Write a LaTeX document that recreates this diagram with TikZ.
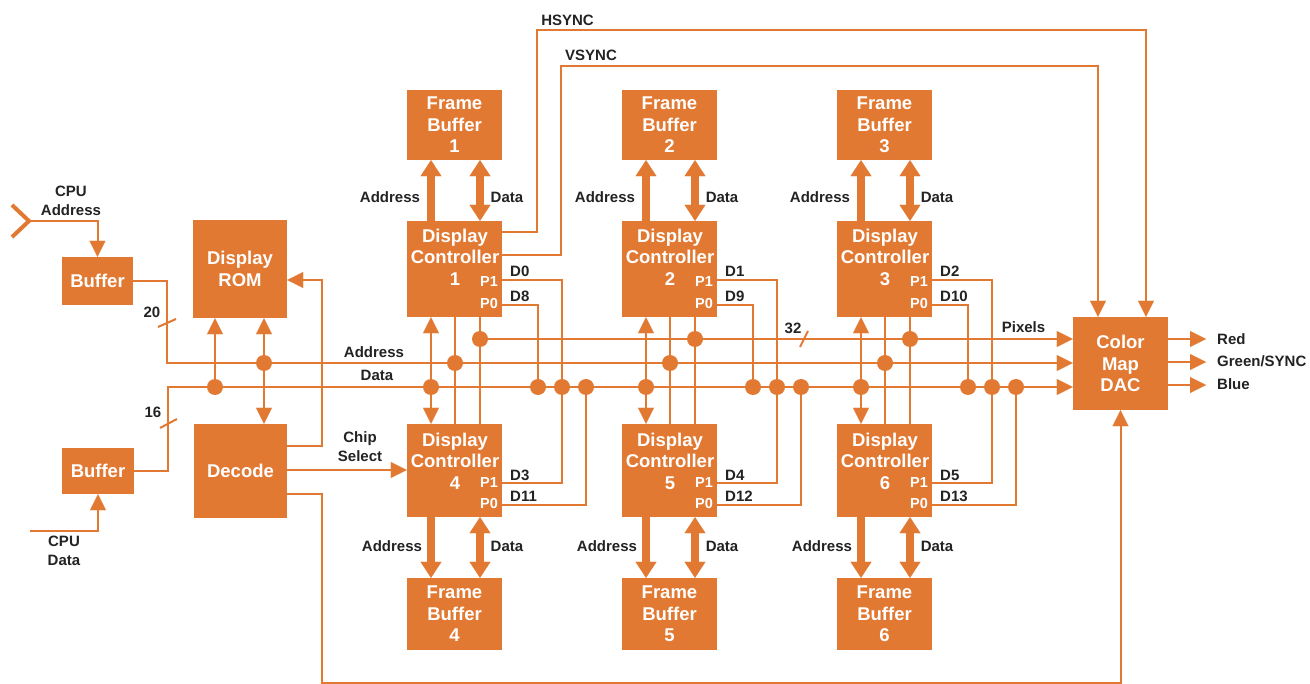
\documentclass[tikz,border=0pt]{standalone}
\usepackage{fontspec}
\setmainfont{Liberation Sans}
\usetikzlibrary{arrows.meta,calc}
\definecolor{hpor}{RGB}{226,121,50}
\definecolor{ink}{RGB}{35,35,35}
\tikzset{
  obox/.style={fill=hpor, draw=none, inner sep=0pt, minimum width=95pt, text=white,
     font=\fontsize{18.5}{21.5}\selectfont\bfseries, align=center},
  btxt/.style={text=white, font=\fontsize{18.5}{21.5}\selectfont\bfseries, align=center, inner sep=0pt},
  ptxt/.style={text=white, font=\fontsize{14.5}{17}\selectfont\bfseries, inner sep=0pt},
  lbl/.style={text=ink, font=\fontsize{15}{19.5}\selectfont\bfseries, inner sep=0pt, align=center},
  wire/.style={draw=hpor, line width=2pt},
  arr/.style={wire, -{Triangle[length=16pt,width=16pt,line width=0.1pt]}},
  darr/.style={wire, {Triangle[length=16pt,width=16pt,line width=0.1pt]}-{Triangle[length=16pt,width=16pt,line width=0.1pt]}},
  fat/.style={draw=hpor, line width=8pt, -{Triangle[length=16pt,width=21pt,line width=0.1pt]}},
  fatd/.style={draw=hpor, line width=8pt, {Triangle[length=16pt,width=21pt,line width=0.1pt]}-{Triangle[length=16pt,width=21pt,line width=0.1pt]}},
}
\begin{document}
\begin{tikzpicture}[x=1pt,y=-1pt]
\useasboundingbox (0,0) rectangle (1310,684);
\fill[white] (0,0) rectangle (1310,684);

% ---------- left side boxes
\node[obox, minimum width=71pt, minimum height=48pt] (buf1) at (97.5,281) {Buffer};
\node[obox, minimum width=72pt, minimum height=46pt] (buf2) at (98,471) {Buffer};
\node[obox, minimum width=94pt, minimum height=98pt] (rom) at (240,269) {Display\\ROM};
\node[obox, minimum width=93pt, minimum height=94pt] (dec) at (240.5,471) {Decode};
\node[obox, minimum width=95pt, minimum height=93pt] (dac) at (1120.5,363.5) {Color\\Map\\DAC};

% bus reference coordinates
\coordinate (pY) at (0,339);
\coordinate (aY) at (0,363);
\coordinate (dY) at (0,387);

% ---------- CPU inputs
\coordinate (cin) at (29,221);
\draw[hpor, line width=4pt, line join=miter] (12,205) -- (cin) -- (12,237);
\draw[arr] (cin) -| (buf1.north);
\node[lbl] (cpua) at (71,201) {CPU\\Address};
\coordinate (din) at (30,531);
\draw[arr] (din) -| (buf2.south);
\node[lbl] (cpud) at (64,551) {CPU\\Data};

% ---------- buses
\coordinate (aX) at (167,363);
\draw[arr] (buf1.east) -| (aX) -- (dac.west |- aX);
\coordinate (dX) at (168,387);
\draw[arr] (buf2.east) -| (dX) -- (dac.west |- dX);
\coordinate (pX) at (480,339);
\draw[arr] (pX) -- (dac.west |- pX);

\node[lbl] (n20) at (152,312) {20};
\draw[wire] (158,327) -- (176,319);
\node[lbl] (n16) at (153,412) {16};
\draw[wire] (160,428) -- (177,419);
\node[lbl] (n32) at (793,328) {32};
\draw[wire] (800,347) -- (808,331);
\node[lbl] (busa) at (374,352) {Address};
\node[lbl] (busd) at (377,375) {Data};
\node[lbl] (pix) at (1023.5,327) {Pixels};

% ---------- ROM / Decode links
\coordinate (j1) at (215,387);
\draw[arr] (j1) -- (rom.south -| j1);
\coordinate (j2) at (264,363);
\draw[darr] (rom.south -| j2) -- (dec.north -| j2);
\fill[hpor] (j1) circle (8pt) (j2) circle (8pt);

\coordinate (k1) at (322,446);
\coordinate (k2) at (322,280);
\draw[arr] (dec.east |- k1) -- (k1) -- (k2) -- (rom.east |- k2);
\coordinate (k3) at (322,494);
\coordinate (k4) at (322,683);
\draw[arr] (dec.east |- k3) -- (k3) -- (k4) -| (dac.south);

% ---------- display controller columns
\foreach \i/\xx in {1/407,2/622,3/837}{
  \pgfmathtruncatemacro{\j}{\i+3}
  \pgfmathtruncatemacro{\da}{\i-1}
  \pgfmathtruncatemacro{\db}{\i+7}
  \pgfmathtruncatemacro{\dc}{\i+2}
  \pgfmathtruncatemacro{\dd}{\i+10}
  \node[obox, minimum height=70pt] (fb\i) at (\xx+47.5,125) {Frame\\Buffer\\\i};
  \node[obox, minimum height=96pt] (dc\i) at (\xx+47.5,269) {};
  \node[btxt] (dc\i-t) at (\xx+48,246.5) {Display\\Controller};
  \node[btxt] (dc\i-n) at (\xx+48,279) {\i};
  \node[ptxt] (dc\i-p1) at (\xx+82,282) {P1};
  \node[ptxt] (dc\i-p0) at (\xx+82,304) {P0};
  \node[obox, minimum height=93pt] (dc\j) at (\xx+47.5,470.5) {};
  \node[btxt] (dc\j-t) at (\xx+48,450.5) {Display\\Controller};
  \node[btxt] (dc\j-n) at (\xx+48,483) {\j};
  \node[ptxt] (dc\j-p1) at (\xx+82,483) {P1};
  \node[ptxt] (dc\j-p0) at (\xx+82,504) {P0};
  \node[obox, minimum height=72pt] (fb\j) at (\xx+47.5,614) {Frame\\Buffer\\\j};
  % frame buffer links
  \coordinate (ca\i) at (\xx+24,0);
  \coordinate (cb\i) at (\xx+48,0);
  \coordinate (cd\i) at (\xx+73,0);
  \draw[fat] (dc\i.north -| ca\i) -- (fb\i.south -| ca\i);
  \draw[fatd] (dc\i.north -| cd\i) -- (fb\i.south -| cd\i);
  \draw[fat] (dc\j.south -| ca\i) -- (fb\j.north -| ca\i);
  \draw[fatd] (dc\j.south -| cd\i) -- (fb\j.north -| cd\i);
  \node[lbl] (la\i) at (\xx-17,197) {Address};
  \node[lbl] (ld\i) at (\xx+100,197) {Data};
  \node[lbl] (la\j) at (\xx-15,546) {Address};
  \node[lbl] (ld\j) at (\xx+100,546) {Data};
  % bus links
  \draw[darr] (dc\i.south -| ca\i) -- (dc\j.north -| ca\i);
  \draw[wire] (dc\i.south -| cb\i) -- (dc\j.north -| cb\i);
  \draw[wire] (dc\i.south -| cd\i) -- (dc\j.north -| cd\i);
  % pixel outputs
  \coordinate (pa\i) at (\xx+131,305);
  \coordinate (pb\i) at (\xx+155,280);
  \coordinate (pbb\i) at (\xx+155,483);
  \coordinate (pc\i) at (\xx+179,505);
  \draw[wire] (dc\i.east |- pa\i) -- (pa\i) -- (pa\i |- dY);
  \draw[wire] (dc\i.east |- pb\i) -- (pb\i) -- (pbb\i) -- (dc\j.east |- pbb\i);
  \draw[wire] (dc\j.east |- pc\i) -- (pc\i) -- (pc\i |- dY);
  \node[lbl, anchor=west] (dl\i a) at (\xx+103,271) {D\da};
  \node[lbl, anchor=west] (dl\i b) at (\xx+103,296) {D\db};
  \node[lbl, anchor=west] (dl\j a) at (\xx+103,475) {D\dc};
  \node[lbl, anchor=west] (dl\j b) at (\xx+103,496) {D\dd};
  % junction dots
  \fill[hpor] (ca\i |- dY) circle (8pt) (cb\i |- aY) circle (8pt) (cd\i |- pY) circle (8pt)
              (pa\i |- dY) circle (8pt) (pb\i |- dY) circle (8pt) (pc\i |- dY) circle (8pt);
}

% ---------- chip select
\coordinate (cs) at (300,470);
\draw[arr] (dec.east |- cs) -- (dc4.west |- cs);
\node[lbl] (chip) at (360,446.5) {Chip\\Select};

% ---------- sync lines
\coordinate (h1) at (537,232);
\coordinate (h2) at (537,30);
\coordinate (h3) at (1146,30);
\draw[arr] (dc1.east |- h1) -- (h1) -- (h2) -- (h3) -- (dac.north -| h3);
\node[lbl] (hs) at (567.5,20) {HSYNC};
\coordinate (v1) at (561,255);
\coordinate (v2) at (561,66);
\coordinate (v3) at (1098,66);
\draw[arr] (dc1.east |- v1) -- (v1) -- (v2) -- (v3) -- (dac.north -| v3);
\node[lbl] (vs) at (591,55) {VSYNC};

% ---------- outputs
\coordinate (o1) at (1206,339);
\coordinate (o2) at (1206,362);
\coordinate (o3) at (1206,385);
\draw[arr] (dac.east |- o1) -- (o1);
\draw[arr] (dac.east |- o2) -- (o2);
\draw[arr] (dac.east |- o3) -- (o3);
\node[lbl, anchor=west] (red) at (1217,339) {Red};
\node[lbl, anchor=west] (grn) at (1217,361) {Green/SYNC};
\node[lbl, anchor=west] (blu) at (1217,384) {Blue};
\end{tikzpicture}
\end{document}
